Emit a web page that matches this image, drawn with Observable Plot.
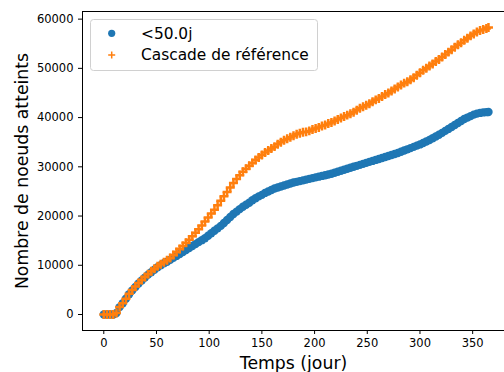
<!DOCTYPE html>
<html><head><meta charset="utf-8">
<script src="https://cdn.jsdelivr.net/npm/d3@7"></script>
<script src="https://cdn.jsdelivr.net/npm/@observablehq/plot@0.6"></script>
<style>html,body{margin:0;padding:0;background:#fff} #chart svg{display:block}</style>
</head><body><div id="chart"></div>
<script>
const days = [0,3,6,9,12,15,18,21,24,27,30,33,36,39,42,45,48,51,54,57,60,63,66,69,72,75,78,81,84,87,90,93,96,99,102,105,108,111,114,117,120,123,126,129,132,135,138,141,144,147,150,153,156,159,162,165,168,171,174,177,180,183,186,189,192,195,198,201,204,207,210,213,216,219,222,225,228,231,234,237,240,243,246,249,252,255,258,261,264,267,270,273,276,279,282,285,288,291,294,297,300,303,306,309,312,315,318,321,324,327,330,333,336,339,342,345,348,351,354,357,360,363,365];
const reach50 = [0,0,0,0,300,1500,2300,3200,4100,4900,5600,6300,6900,7500,8100,8600,9100,9600,10000,10400,10700,11100,11500,11900,12300,12700,13100,13500,13900,14300,14700,15100,15500,16000,16500,17000,17500,18000,18600,19200,19800,20400,20900,21400,21900,22300,22700,23200,23600,24000,24300,24700,25000,25300,25600,25800,26000,26200,26400,26600,26800,26950,27100,27250,27400,27550,27700,27850,28000,28150,28300,28450,28600,28800,29000,29200,29400,29600,29800,30000,30200,30400,30600,30800,31000,31200,31400,31600,31800,32000,32200,32400,32600,32800,33050,33300,33550,33800,34050,34300,34550,34850,35150,35450,35800,36150,36500,36900,37300,37700,38100,38500,38900,39300,39700,40000,40300,40600,40800,40950,41050,41100,41150];
const reference = [0,0,0,0,300,1500,2300,3200,4200,5000,5700,6400,7000,7600,8200,8800,9300,9800,10200,10600,11000,11500,12100,12700,13300,13900,14600,15200,15900,16600,17300,18100,18900,19700,20500,21300,22200,23100,24000,24900,25800,26700,27500,28300,29000,29600,30200,30800,31400,31900,32400,32900,33300,33700,34100,34600,35000,35400,35700,36000,36300,36600,36800,37000,37100,37300,37600,37800,38000,38300,38500,38800,39000,39300,39600,39900,40200,40500,40800,41100,41500,41900,42200,42500,42800,43200,43600,43900,44300,44700,45000,45400,45800,46200,46600,47000,47300,47700,48100,48600,49100,49600,50000,50500,50900,51400,51800,52300,52800,53300,53800,54300,54800,55200,55700,56100,56600,57000,57400,57700,57900,58100,58300];
const seriesNames = ["<50.0j", "Cascade de référence"];
const seriesColors = ["#1f77b4", "#ff7f0e"];
const xTicks = [0,50,100,150,200,250,300,350];
const yTicks = [0,10000,20000,30000,40000,50000,60000];
const xLabel = "Temps (jour)";
const yLabel = "Nombre de noeuds atteints";

const blueData = days.map((d, i) => ({day: d, value: reach50[i]}));
const orangeData = days.map((d, i) => ({day: d, value: reference[i]}));

const plot = Plot.plot({
  width: 504, height: 372,
  marginLeft: 82, marginRight: 0, marginTop: 11, marginBottom: 42,
  style: {fontFamily: "DejaVu Sans", background: "white", color: "black"},
  x: {domain: [-20.2, 380.2]},
  y: {domain: [-3250, 61550]},
  marks: [
    Plot.axisX({ticks: xTicks, tickSize: 4, tickPadding: 4, fontSize: 11.5, label: null, tickFormat: d3.format("d")}),
    Plot.axisY({ticks: yTicks, tickSize: 4, tickPadding: 5, fontSize: 11.5, label: null, tickFormat: d3.format("d")}),
    Plot.dot(blueData, {x: "day", y: "value", r: 4.2, fill: seriesColors[0], stroke: null}),
    Plot.dot(orangeData, {x: "day", y: "value", r: 3, symbol: "plus", stroke: seriesColors[1], strokeWidth: 2.5}),
    Plot.frame({anchor: "left", stroke: "black"}),
    Plot.frame({anchor: "top", stroke: "black"}),
    Plot.frame({anchor: "bottom", stroke: "black"}),
    Plot.text([yLabel], {frameAnchor: "left", text: d => d, rotate: -90, dx: -60.5, textAnchor: "middle", lineAnchor: "middle", fontSize: 17.3, fill: "black"}),
    Plot.text([xLabel], {frameAnchor: "bottom", text: d => d, dy: 32.5, textAnchor: "middle", lineAnchor: "middle", fontSize: 17.3, fill: "black"})
  ]
});

// legend inside the axes (upper left)
const svg = d3.select(plot);
const lg = svg.append("g").attr("font-family", "DejaVu Sans").attr("font-size", 15.4).attr("text-anchor", "start");
lg.append("rect").attr("x", 90.5).attr("y", 19.5).attr("width", 227).attr("height", 51).attr("rx", 3)
  .attr("fill", "white").attr("fill-opacity", 0.8).attr("stroke", "#d0d0d0");
lg.append("circle").attr("cx", 111.7).attr("cy", 33.3).attr("r", 3.6).attr("fill", seriesColors[0]);
lg.append("path").attr("d", d3.symbol(d3.symbolPlus, 18)()).attr("transform", "translate(111.7,55)")
  .attr("stroke", seriesColors[1]).attr("stroke-width", 1.5).attr("fill", "none");
lg.append("text").attr("x", 141).attr("y", 38.5).attr("fill", "black").attr("text-anchor", "start").text(seriesNames[0]);
lg.append("text").attr("x", 141).attr("y", 60).attr("fill", "black").attr("text-anchor", "start").text(seriesNames[1]);

document.getElementById("chart").appendChild(plot);
</script>
</body></html>
